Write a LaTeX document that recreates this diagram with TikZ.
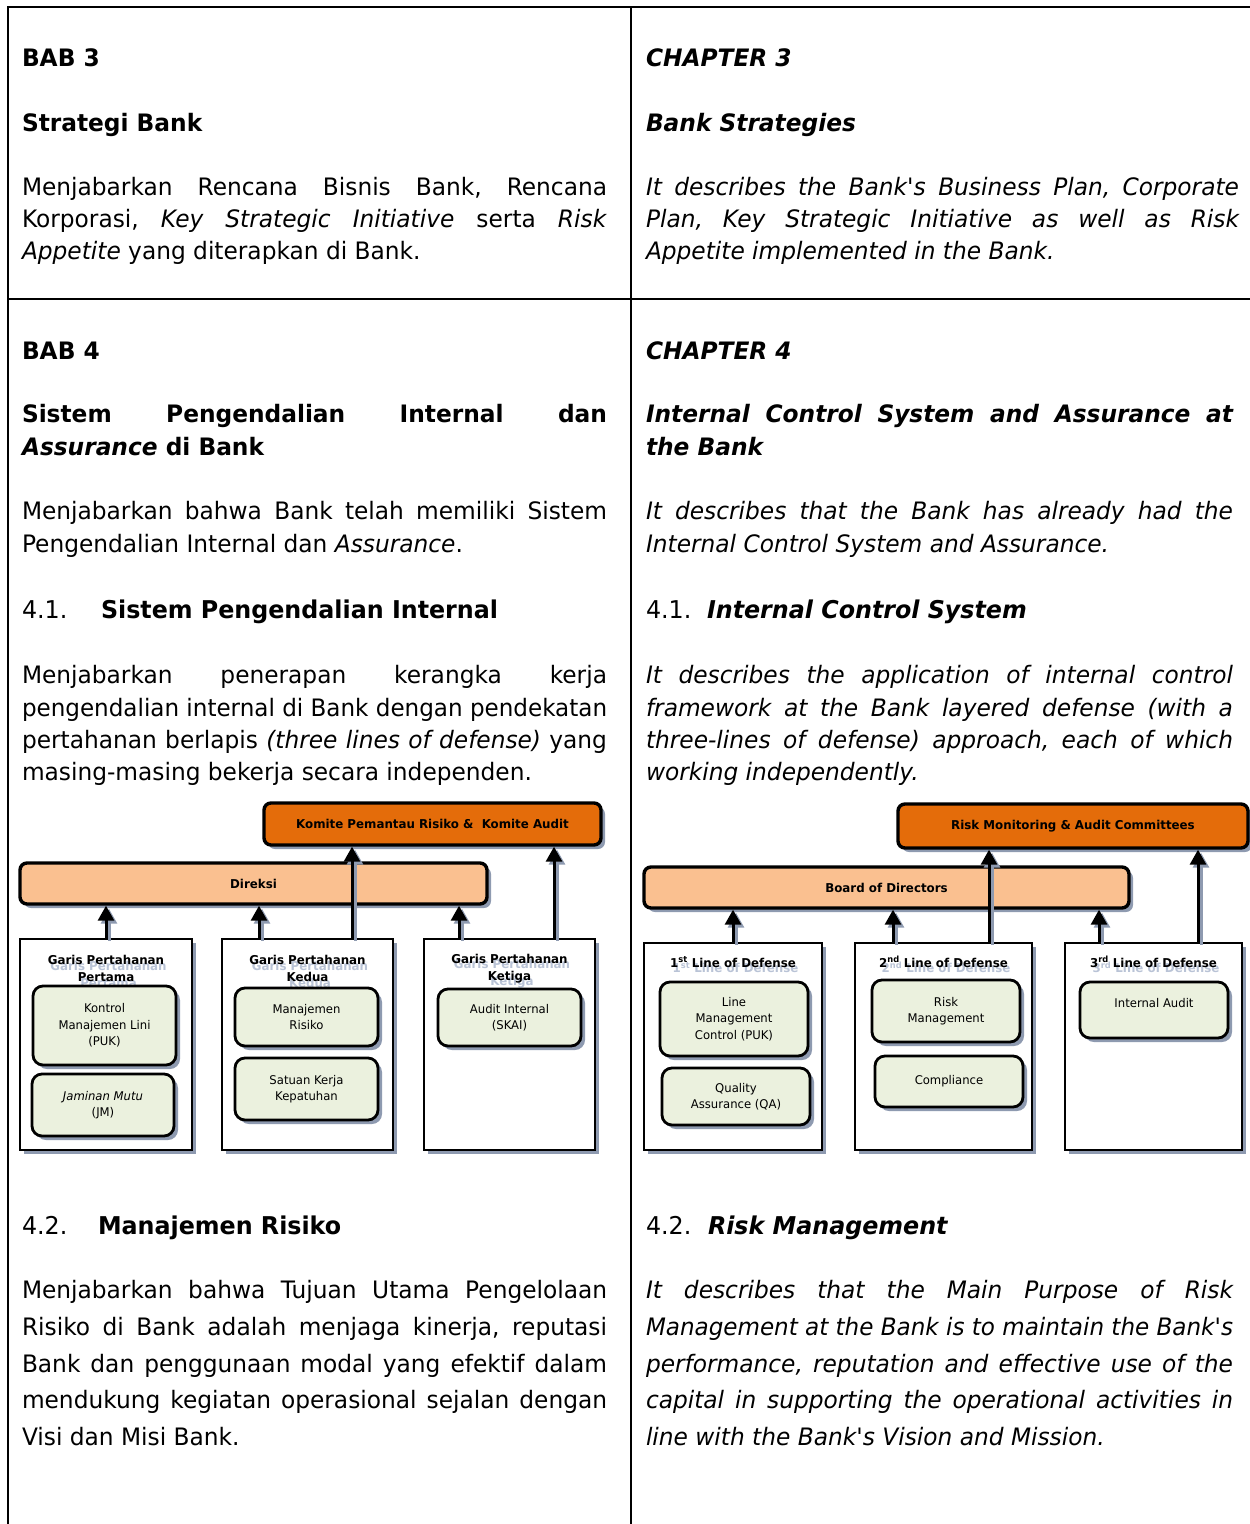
\documentclass[tikz,border=0pt]{standalone}
\usepackage{fontspec}
\setmainfont{DejaVu Sans}[FakeStretch=0.97]
\usepackage{graphicx}
\usetikzlibrary{shadows,arrows.meta}
\definecolor{darkor}{HTML}{E46C0A}
\definecolor{lightor}{HTML}{FAC090}
\definecolor{greenc}{HTML}{EBF1DE}
\definecolor{shadowc}{HTML}{8E9AB0}
\definecolor{ghostc}{HTML}{B9C3D6}
\newsavebox\jbox
\newcommand\J[2]{\sbox\jbox{#2}\ifdim\wd\jbox>#1\relax\resizebox{#1}{\height}{\usebox\jbox}\else\makebox[#1][s]{#2}\fi}
\newcommand\bodyfont{\fontsize{24}{29}\selectfont}
\newcommand\secfont{\fontsize{24.5}{29}\selectfont}
\newcommand\diafont{\fontsize{12}{16.5}\selectfont}
\newcommand\diabold{\bfseries\fontsize{12.2}{17}\selectfont}
\newcommand\ap{\textquotesingle}
\frenchspacing
\begin{document}
\begin{tikzpicture}[x=1pt,y=-1pt,
  txt/.style={anchor=base west,inner sep=0pt,outer sep=0pt,font=\bodyfont},
  tbl/.style={line width=2.4pt,line cap=rect},
  shad/.style={drop shadow={shadow xshift=4pt,shadow yshift=-4pt,fill=shadowc,opacity=1}},
  obox/.style={draw,line width=2.6pt,fill=white,shad,inner sep=0pt},
  bar/.style={draw,line width=3.4pt,rounded corners=7pt,shad,inner sep=0pt,font=\diabold},
  ibox/.style={draw,line width=2.8pt,rounded corners=10pt,fill=greenc,shad,inner sep=2pt,align=center,font=\diafont},
  ttl/.style={inner sep=0pt,align=center,font=\diabold},
  ghost/.style={ttl,text=ghostc},
  arr/.style={line width=3pt,-{Triangle[width=16pt,length=15pt]},
    preaction={draw=shadowc,line width=3pt,-{Triangle[width=16pt,length=15pt]},transform canvas={shift={(3pt,-3pt)}}}}
]
\useasboundingbox (0,0) rectangle (1250,1524);
% table rules
\draw[tbl] (8,7) -- (1250,7);
\draw[tbl] (8,7) -- (8,1524);
\draw[tbl] (631,7) -- (631,1524);
\draw[tbl] (8,299) -- (1250,299);

% ---------------- left column text
\node[txt] (a1) at (22,66) {\bfseries BAB 3};
\node[txt] (a2) at (22,131) {\bfseries Strategi Bank};
\node[txt] (a3) at (22,195) {\J{585pt}{Menjabarkan Rencana Bisnis Bank, Rencana}};
\node[txt] (a4) at (22,227) {\J{585pt}{Korporasi, \textit{Key Strategic Initiative} serta \textit{Risk}}};
\node[txt] (a5) at (22,259) {\textit{Appetite} yang diterapkan di Bank.};
\node[txt] (a6) at (22,359) {\bfseries BAB 4};
\node[txt] (a7) at (22,422) {\bfseries\J{585pt}{Sistem Pengendalian Internal dan}};
\node[txt] (a8) at (22,455) {\bfseries\textit{Assurance} di Bank};
\node[txt] (a9) at (22,519) {\J{585pt}{Menjabarkan bahwa Bank telah memiliki Sistem}};
\node[txt] (a10) at (22,552) {Pengendalian Internal dan \textit{Assurance}.};
\node[txt,font=\secfont] (a11) at (22,618) {4.1.};
\node[txt,font=\secfont] (a12) at (101,618) {\bfseries Sistem Pengendalian Internal};
\node[txt] (a13) at (22,683) {\J{585pt}{Menjabarkan penerapan kerangka kerja}};
\node[txt] (a14) at (22,716) {\J{585pt}{pengendalian internal di Bank dengan pendekatan}};
\node[txt] (a15) at (22,748) {\J{585pt}{pertahanan berlapis \textit{(three lines of defense)} yang}};
\node[txt] (a16) at (22,780) {masing-masing bekerja secara independen.};
\node[txt,font=\secfont] (a17) at (22,1234) {4.2.};
\node[txt,font=\secfont] (a18) at (98,1234) {\bfseries Manajemen Risiko};
\node[txt] (a19) at (22,1298) {\J{585pt}{Menjabarkan bahwa Tujuan Utama Pengelolaan}};
\node[txt] (a20) at (22,1335) {\J{585pt}{Risiko di Bank adalah menjaga kinerja, reputasi}};
\node[txt] (a21) at (22,1372) {\J{585pt}{Bank dan penggunaan modal yang efektif dalam}};
\node[txt] (a22) at (22,1408) {\J{585pt}{mendukung kegiatan operasional sejalan dengan}};
\node[txt] (a23) at (22,1445) {Visi dan Misi Bank.};

% ---------------- right column text
\node[txt] (c1) at (646,66) {\bfseries\itshape CHAPTER 3};
\node[txt] (c2) at (646,131) {\bfseries\itshape Bank Strategies};
\node[txt] (c3) at (646,195) {\itshape\J{593pt}{It describes the Bank\ap s Business Plan, Corporate}};
\node[txt] (c4) at (646,227) {\itshape\J{593pt}{Plan, Key Strategic Initiative as well as Risk}};
\node[txt] (c5) at (646,259) {\itshape Appetite implemented in the Bank.};
\node[txt] (c6) at (646,359) {\bfseries\itshape CHAPTER 4};
\node[txt] (c7) at (646,422) {\bfseries\itshape\J{587pt}{Internal Control System and Assurance at}};
\node[txt] (c8) at (646,455) {\bfseries\itshape the Bank};
\node[txt] (c9) at (646,519) {\itshape\J{587pt}{It describes that the Bank has already had the}};
\node[txt] (c10) at (646,552) {\itshape Internal Control System and Assurance.};
\node[txt,font=\secfont] (c11) at (646,618) {4.1.};
\node[txt,font=\secfont] (c12) at (707,618) {\bfseries\itshape Internal Control System};
\node[txt] (c13) at (646,683) {\itshape\J{587pt}{It describes the application of internal control}};
\node[txt] (c14) at (646,716) {\itshape\J{587pt}{framework at the Bank layered defense (with a}};
\node[txt] (c15) at (646,748) {\itshape\J{587pt}{three-lines of defense) approach, each of which}};
\node[txt] (c16) at (646,780) {\itshape working independently.};
\node[txt,font=\secfont] (c17) at (646,1234) {4.2.};
\node[txt,font=\secfont] (c18) at (708,1234) {\bfseries\itshape Risk Management};
\node[txt] (c19) at (646,1298) {\itshape\J{587pt}{It describes that the Main Purpose of Risk}};
\node[txt] (c20) at (646,1335) {\itshape\J{587pt}{Management at the Bank is to maintain the Bank\ap s}};
\node[txt] (c21) at (646,1372) {\itshape\J{587pt}{performance, reputation and effective use of the}};
\node[txt] (c22) at (646,1408) {\itshape\J{587pt}{capital in supporting the operational activities in}};
\node[txt] (c23) at (646,1445) {\itshape line with the Bank\ap s Vision and Mission.};

% ---------------- left diagram
\node[bar,fill=darkor,minimum width=337pt,minimum height=42pt] (kom) at (432.5,824) {Komite Pemantau Risiko \&\ \ Komite Audit};
\node[bar,fill=lightor,minimum width=467pt,minimum height=41pt] (dir) at (253.5,883.5) {Direksi};
\node[obox,minimum width=172pt,minimum height=211pt] (b1) at (106,1044.5) {};
\node[obox,minimum width=171pt,minimum height=211pt] (b2) at (307.5,1044.5) {};
\node[obox,minimum width=171pt,minimum height=211pt] (b3) at (509.5,1044.5) {};
\node[ghost] (b1g) at (108.5,974) {Garis Pertahanan\\Pertama};
\node[ttl] (b1t) at (106,968.5) {Garis Pertahanan\\Pertama};
\node[ghost] (b2g) at (310,974) {Garis Pertahanan\\Kedua};
\node[ttl] (b2t) at (307.5,968.5) {Garis Pertahanan\\Kedua};
\node[ghost] (b3g) at (512,974) {Garis Pertahanan\\Ketiga};
\node[ttl] (b3t) at (509.5,968.5) {Garis Pertahanan\\Ketiga};
\node[ibox,minimum width=143pt,minimum height=79pt] (k1) at (104.5,1025.5) {Kontrol\\Manajemen Lini\\(PUK)};
\node[ibox,minimum width=142pt,minimum height=62pt] (k2) at (103,1105) {\textit{Jaminan Mutu}\\(JM)};
\node[ibox,minimum width=143pt,minimum height=58pt] (k3) at (306.5,1017) {Manajemen\\Risiko};
\node[ibox,minimum width=143pt,minimum height=62pt] (k4) at (306.5,1089) {Satuan Kerja\\Kepatuhan};
\node[ibox,minimum width=143pt,minimum height=57pt] (k5) at (509.5,1017.5) {Audit Internal\\(SKAI)};
\draw[arr] (b1.north) -- (b1.north |- dir.south);
\draw[arr] ([xshift=-48.5pt]b2.north) -- ([xshift=-48.5pt]b2.north |- dir.south);
\draw[arr] ([xshift=44.5pt]b2.north) -- ([xshift=44.5pt]b2.north |- kom.south);
\draw[arr] ([xshift=-50.5pt]b3.north) -- ([xshift=-50.5pt]b3.north |- dir.south);
\draw[arr] ([xshift=44.5pt]b3.north) -- ([xshift=44.5pt]b3.north |- kom.south);

% ---------------- right diagram
\node[bar,fill=darkor,minimum width=350pt,minimum height=44pt] (rmc) at (1073,826) {Risk Monitoring \& Audit Committees};
\node[bar,fill=lightor,minimum width=485pt,minimum height=41pt] (bod) at (886.5,887.5) {Board of Directors};
\node[obox,minimum width=178pt,minimum height=207pt] (d1) at (733,1046.5) {};
\node[obox,minimum width=177pt,minimum height=207pt] (d2) at (943.5,1046.5) {};
\node[obox,minimum width=177pt,minimum height=207pt] (d3) at (1153.5,1046.5) {};
\node[ghost] (d1g) at (735.5,967.5) {1\textsuperscript{st} Line of Defense};
\node[ttl] (d1t) at (733,962) {1\textsuperscript{st} Line of Defense};
\node[ghost] (d2g) at (946,967.5) {2\textsuperscript{nd} Line of Defense};
\node[ttl] (d2t) at (943.5,962) {2\textsuperscript{nd} Line of Defense};
\node[ghost] (d3g) at (1156,967.5) {3\textsuperscript{rd} Line of Defense};
\node[ttl] (d3t) at (1153.5,962) {3\textsuperscript{rd} Line of Defense};
\node[ibox,minimum width=148pt,minimum height=74pt] (m1) at (734,1019) {Line\\Management\\Control (PUK)};
\node[ibox,minimum width=148pt,minimum height=57pt] (m2) at (736,1096.5) {Quality\\Assurance (QA)};
\node[ibox,minimum width=148pt,minimum height=62pt] (m3) at (946,1011) {Risk\\Management};
\node[ibox,minimum width=148pt,minimum height=51pt] (m4) at (949,1081.5) {Compliance};
\node[ibox,minimum width=148pt,minimum height=56pt,text depth=15pt] (m5) at (1154,1010) {Internal Audit};
\draw[arr] (d1.north) -- (d1.north |- bod.south);
\draw[arr] ([xshift=-50.5pt]d2.north) -- ([xshift=-50.5pt]d2.north |- bod.south);
\draw[arr] ([xshift=45.5pt]d2.north) -- ([xshift=45.5pt]d2.north |- rmc.south);
\draw[arr] ([xshift=-54.5pt]d3.north) -- ([xshift=-54.5pt]d3.north |- bod.south);
\draw[arr] ([xshift=44.5pt]d3.north) -- ([xshift=44.5pt]d3.north |- rmc.south);
\end{tikzpicture}
\end{document}
